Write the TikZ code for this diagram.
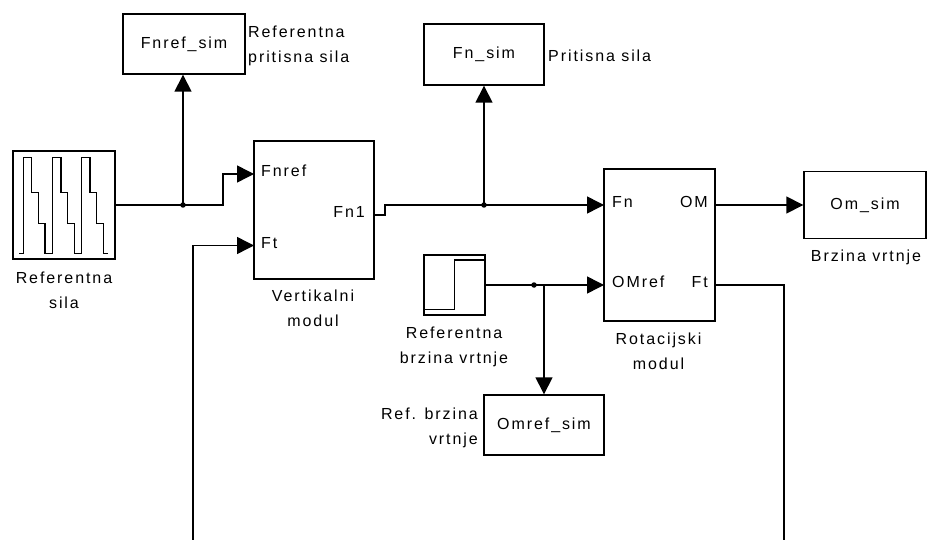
\documentclass[tikz,border=0pt]{standalone}
\usepackage{fontspec}
\newfontfamily\simfont[LetterSpace=12]{Liberation Sans}
\usetikzlibrary{arrows.meta}
\begin{document}
\begin{tikzpicture}[x=1pt,y=-1pt,
  blk/.style={draw, line width=1.4pt, inner sep=0pt},
  txt/.style={font=\simfont\fontsize{16pt}{25pt}\selectfont, inner sep=0pt},
  wire/.style={line width=1.5pt},
  arr/.style={wire, -{Triangle[length=17pt,width=17pt]}},
  dot/.style={circle, fill, inner sep=0pt, minimum size=5.5pt}]
\useasboundingbox (0,0) rectangle (929,540);

% ---------- blocks ----------
\node[blk, minimum width=102pt, minimum height=108pt] (src) at (64,205) {};
\node[blk, txt, minimum width=122pt, minimum height=60pt] (fnrefsim) at (184,44) {Fnref\_sim};
\node[blk, minimum width=120pt, minimum height=138pt] (vert) at (314,210) {};
\node[blk, txt, minimum width=120pt, minimum height=61pt] (fnsim) at (484,54.5) {Fn\_sim};
\node[blk, minimum width=111pt, minimum height=152pt] (rot) at (659.5,245) {};
\node[blk, txt, minimum width=122pt, minimum height=67pt] (omsim) at (865,205) {Om\_sim};
\node[blk, minimum width=61pt, minimum height=60pt] (step) at (454.5,285) {};
\node[blk, txt, minimum width=120pt, minimum height=60pt] (omrefsim) at (544,425) {Omref\_sim};

% signal-generator icon
\draw[line width=1.4pt] (19.3,253.3) -- (23.3,253.3)
  -- (23.3,157.3) -- (31.7,157.3) -- (31.7,192.7) -- (38.3,192.7) -- (38.3,223.3) -- (45,223.3) -- (45,253.3) -- (52.7,253.3)
  -- (52.7,157.3) -- (61,157.3) -- (61,192.7) -- (67.7,192.7) -- (67.7,223.3) -- (74.3,223.3) -- (74.3,253.3) -- (81.7,253.3)
  -- (81.7,157.3) -- (90,157.3) -- (90,192.7) -- (96.7,192.7) -- (96.7,223.3) -- (103.3,223.3) -- (103.3,253.3) -- (108.3,253.3);
% step icon
\draw[line width=1.4pt] (424,309.3) -- (454.3,309.3) -- (454.3,260) -- (485,260);

% ---------- port labels ----------
\node[txt, anchor=mid west] (lFnref) at (261,174.5) {Fnref};
\node[txt, anchor=mid west] (lFtin) at (261,246) {Ft};
\node[txt, anchor=mid east] (lFn1) at (365,215.5) {Fn1};
\node[txt, anchor=mid west] (lFn) at (612,205.5) {Fn};
\node[txt, anchor=mid west] (lOMref) at (612,285.5) {OMref};
\node[txt, anchor=mid east] (lOM) at (708,205.5) {OM};
\node[txt, anchor=mid east] (lFtout) at (708,285.5) {Ft};

% ---------- captions ----------
\node[txt, align=center, anchor=north] (csrc) at (64,272) {Referentna\\sila};
\node[txt, align=center, anchor=north] (cvert) at (313,290) {Vertikalni\\modul};
\node[txt, align=center, anchor=north] (crot) at (658.5,333) {Rotacijski\\modul};
\node[txt, align=center, anchor=north] (cstep) at (454,327) {Referentna\\brzina vrtnje};
\node[txt, anchor=north] (comsim) at (866,250) {Brzina vrtnje};
\node[txt, align=left, anchor=north west] (cfnref) at (248,26) {Referentna\\pritisna sila};
\node[txt, anchor=base west] (cfn) at (548,61.7) {Pritisna sila};
\node[txt, align=right, anchor=north east] (comref) at (478,408) {Ref. brzina\\vrtnje};

% ---------- ports and junctions ----------
\coordinate (vIn1) at (254,174);
\coordinate (vIn2) at (254,245.5);
\coordinate (vOut) at (374,215);
\coordinate (rIn1) at (604,205);
\coordinate (rIn2) at (604,285);
\coordinate (rOut1) at (715,205);
\coordinate (rOut2) at (715,285);
\coordinate (j1) at (183,205);
\coordinate (j2) at (484,205);
\coordinate (j3) at (534,285);
\coordinate (j3b) at (544,285);
\coordinate (fb1) at (193,540);
\coordinate (fb2) at (784,540);

% ---------- connectors ----------
\draw[arr] (src.east) -- (j1) -- (223,205) -- (223,174) -- (vIn1);
\draw[arr] (j1) -- (j1 |- fnrefsim.south);
\node[dot] (d1) at (j1) {};

\draw[arr] (vOut) -- (385,215) -- (385,205) -- (j2) -- (rIn1);
\draw[arr] (j2) -- (j2 |- fnsim.south);
\node[dot] (d2) at (j2) {};

\draw[arr] (rOut1) -- (omsim.west);

\draw[arr] (step.east) -- (rIn2);
\node[dot] (d3) at (j3) {};
\draw[arr] (j3b) -- (omrefsim.north);

\draw[wire] (rOut2) -- (784,285) -- (fb2);
\draw[arr] (fb1) -- (193,245.5) -- (vIn2);
\end{tikzpicture}
\end{document}
